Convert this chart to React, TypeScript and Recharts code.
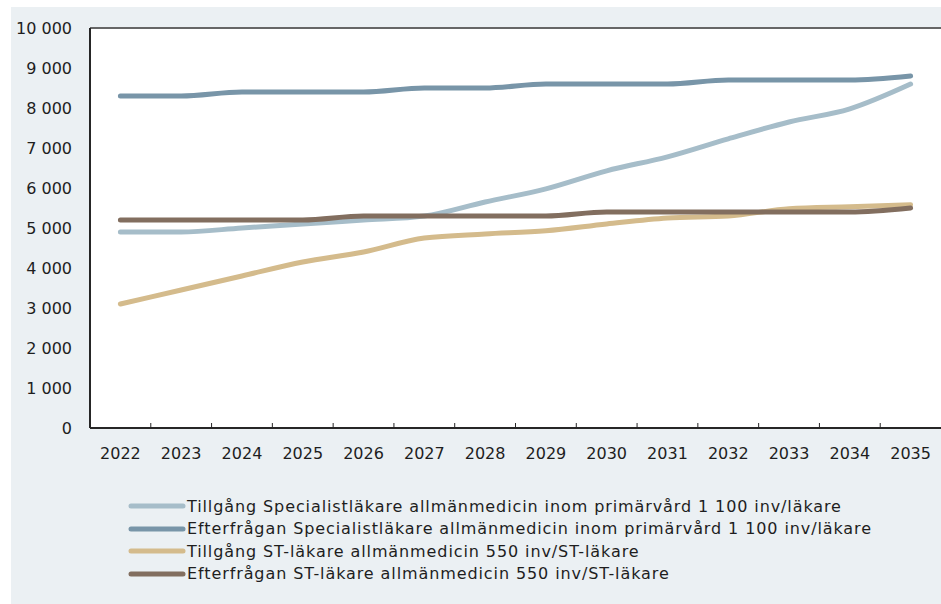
import React from 'react';
import { LineChart, Line, XAxis, YAxis, CartesianGrid, Legend, ReferenceLine } from 'recharts';

const years = [2022, 2023, 2024, 2025, 2026, 2027, 2028, 2029, 2030, 2031, 2032, 2033, 2034, 2035];
const tillgangSpec = [4900, 4900, 5000, 5100, 5200, 5300, 5650, 5980, 6430, 6780, 7230, 7650, 7980, 8600];
const efterfraganSpec = [8300, 8300, 8400, 8400, 8400, 8500, 8500, 8600, 8600, 8600, 8700, 8700, 8700, 8800];
const tillgangST = [3100, 3450, 3800, 4150, 4400, 4750, 4850, 4930, 5100, 5250, 5300, 5480, 5530, 5580];
const efterfraganST = [5200, 5200, 5200, 5200, 5300, 5300, 5300, 5300, 5400, 5400, 5400, 5400, 5400, 5500];

const yTicks = [0, 1000, 2000, 3000, 4000, 5000, 6000, 7000, 8000, 9000, 10000];
// tick marks sit between the years, like category boundaries
const boundaryTicks = [2022.5, 2023.5, 2024.5, 2025.5, 2026.5, 2027.5, 2028.5, 2029.5, 2030.5, 2031.5, 2032.5, 2033.5, 2034.5];

const series = [
  { key: 'tillgangSpec', name: 'Tillgång Specialistläkare allmänmedicin inom primärvård 1 100 inv/läkare', color: '#a6bdc9' },
  { key: 'efterfraganSpec', name: 'Efterfrågan Specialistläkare allmänmedicin inom primärvård 1 100 inv/läkare', color: '#7895a8' },
  { key: 'tillgangST', name: 'Tillgång ST-läkare allmänmedicin 550 inv/ST-läkare', color: '#d4bb8c' },
  { key: 'efterfraganST', name: 'Efterfrågan ST-läkare allmänmedicin 550 inv/ST-läkare', color: '#826e5f' },
];

const data = years.map((year, i) => ({
  year,
  tillgangSpec: tillgangSpec[i],
  efterfraganSpec: efterfraganSpec[i],
  tillgangST: tillgangST[i],
  efterfraganST: efterfraganST[i],
}));

const FONT = '"DejaVu Sans", sans-serif';
const formatThousands = (v: number) => v.toLocaleString('en-US').replace(/,/g, ' ');

const LegendRows = () => (
  <div style={{ fontFamily: FONT, fontSize: 16, letterSpacing: 0.9, color: '#1e1e1e' }}>
    {series.map((s) => (
      <div key={s.key} style={{ display: 'flex', alignItems: 'center', height: 22.5, whiteSpace: 'nowrap' }}>
        <svg width={58} height={10} style={{ flexShrink: 0 }}>
          <line x1={3} y1={5} x2={55} y2={5} stroke={s.color} strokeWidth={5} strokeLinecap="round" />
        </svg>
        <span style={{ marginLeft: 1 }}>{s.name}</span>
      </div>
    ))}
  </div>
);

export default function App() {
  return (
    <div style={{ position: 'absolute', left: 11, top: 7, width: 930, height: 597, background: '#ebf0f3', overflow: 'hidden' }}>
      <LineChart
        width={930}
        height={597}
        data={data}
        margin={{ top: 21, right: 0, bottom: 146, left: 0 }}
        style={{ fontFamily: FONT }}
      >
        <rect x={79} y={21} width={851} height={400} fill="#ffffff" />
        <CartesianGrid horizontal vertical={false} stroke="#e1ded5" strokeWidth={1.5} fill="#ffffff" />
        <XAxis
          dataKey="year"
          type="number"
          domain={[2021.5, 2035.5]}
          ticks={years}
          interval={0}
          height={30}
          tickLine={false}
          tickMargin={14}
          axisLine={{ stroke: '#262626', strokeWidth: 2 }}
          tick={{ fill: '#1e1e1e', fontSize: 16 }}
        />
        <XAxis
          xAxisId="bounds"
          dataKey="year"
          type="number"
          domain={[2021.5, 2035.5]}
          ticks={boundaryTicks}
          interval={0}
          mirror
          axisLine={false}
          tickSize={5}
          tickLine={{ stroke: '#262626', strokeWidth: 1 }}
          tick={() => <g />}
        />
        <YAxis
          type="number"
          domain={[0, 10000]}
          ticks={yTicks}
          interval={0}
          width={79}
          tickLine={false}
          tickMargin={12}
          axisLine={{ stroke: '#262626', strokeWidth: 2 }}
          tickFormatter={formatThousands}
          tick={{ fill: '#1e1e1e', fontSize: 16 }}
        />
        <ReferenceLine y={10000} stroke="#666666" strokeWidth={2} />
        {series.map((s) => (
          <Line
            key={s.key}
            type="monotone"
            dataKey={s.key}
            name={s.name}
            stroke={s.color}
            strokeWidth={5}
            strokeLinecap="round"
            strokeLinejoin="round"
            dot={false}
            activeDot={false}
            isAnimationActive={false}
          />
        ))}
        <Legend
          layout="horizontal"
          verticalAlign="middle"
          align="center"
          content={() => <LegendRows />}
          wrapperStyle={{ top: 488, left: 117, width: 'auto', height: 'auto' }}
        />
      </LineChart>
    </div>
  );
}
